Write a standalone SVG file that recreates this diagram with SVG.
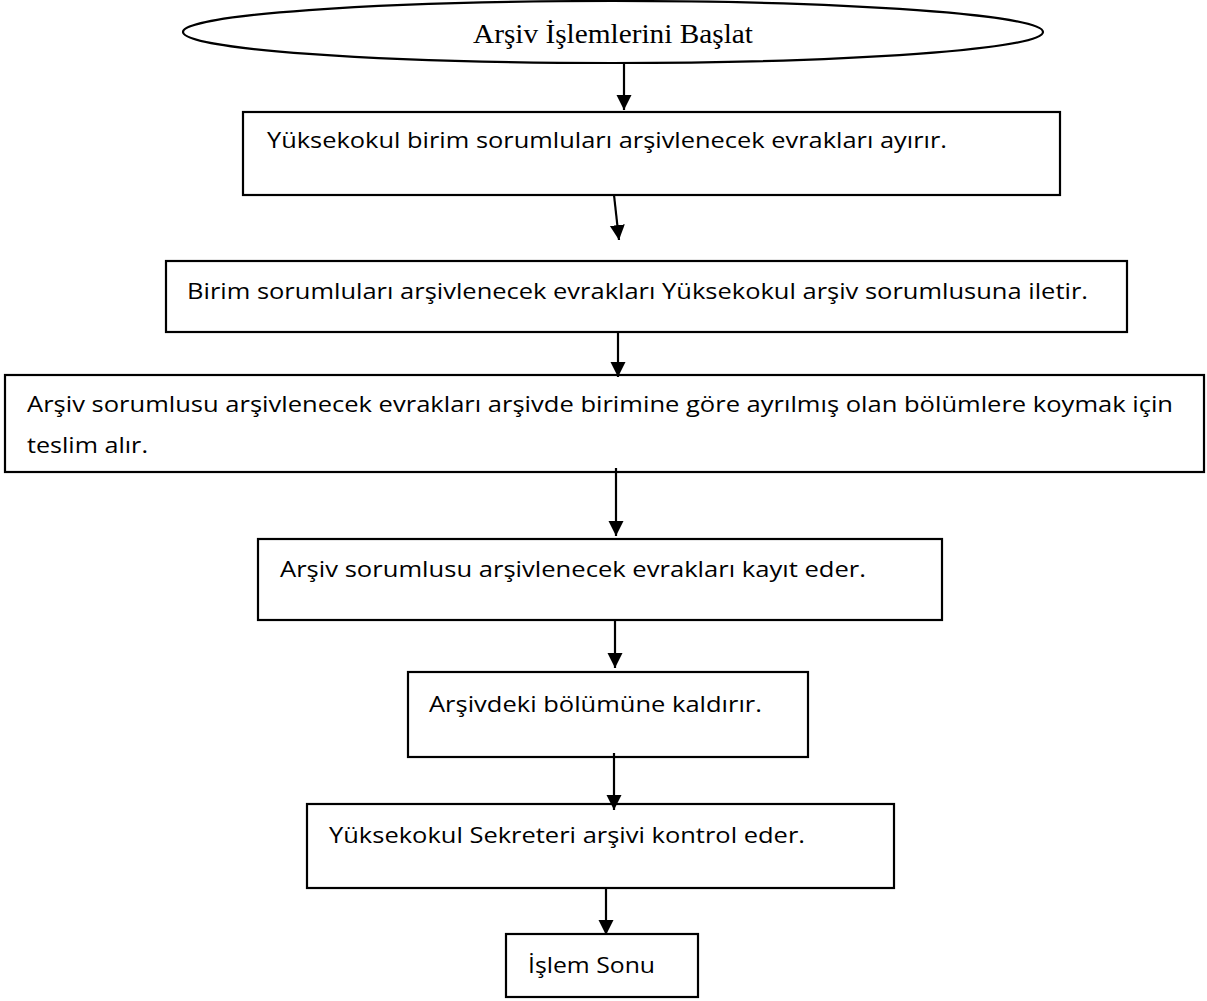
<svg xmlns="http://www.w3.org/2000/svg" width="1207" height="1001" viewBox="0 0 1207 1001">
  <style>
    .box { fill: #ffffff; stroke: #000000; stroke-width: 2.2; }
    .lbl { font-family: "Open Sans", "Noto Sans", "Liberation Sans", sans-serif; font-size: 22px; fill: #000000; }
    .start { font-family: "Liberation Serif", "Times New Roman", serif; font-size: 28px; fill: #000000; }
    .edge { stroke: #000000; stroke-width: 2.2; fill: none; marker-end: url(#head); }
  </style>
  <defs>
    <marker id="head" markerUnits="userSpaceOnUse" markerWidth="16" markerHeight="16" refX="15" refY="8" orient="auto">
      <path d="M0,0.5 L15,8 L0,15.5 Z" fill="#000000"/>
    </marker>
  </defs>
  <rect width="1207" height="1001" fill="#ffffff"/>

  <g id="start">
    <ellipse cx="613" cy="32" rx="430" ry="31" fill="#ffffff" stroke="#000000" stroke-width="2.2"/>
    <text class="start" x="473" y="43" textLength="280" lengthAdjust="spacingAndGlyphs">Arşiv İşlemlerini Başlat</text>
  </g>

  <g id="step1">
    <rect class="box" x="243" y="112" width="817" height="83"/>
    <text class="lbl" x="267" y="148" textLength="680" lengthAdjust="spacingAndGlyphs">Yüksekokul birim sorumluları arşivlenecek evrakları ayırır.</text>
  </g>

  <g id="step2">
    <rect class="box" x="166" y="261" width="961" height="71"/>
    <text class="lbl" x="187" y="299" textLength="901" lengthAdjust="spacingAndGlyphs">Birim sorumluları arşivlenecek evrakları Yüksekokul arşiv sorumlusuna iletir.</text>
  </g>

  <g id="step3">
    <rect class="box" x="5" y="375" width="1199" height="97"/>
    <text class="lbl" x="27" y="412" textLength="1146" lengthAdjust="spacingAndGlyphs">Arşiv sorumlusu arşivlenecek evrakları arşivde birimine göre ayrılmış olan bölümlere koymak için</text>
    <text class="lbl" x="27" y="453" textLength="121" lengthAdjust="spacingAndGlyphs">teslim alır.</text>
  </g>

  <g id="step4">
    <rect class="box" x="258" y="539" width="684" height="81"/>
    <text class="lbl" x="280" y="577" textLength="586" lengthAdjust="spacingAndGlyphs">Arşiv sorumlusu arşivlenecek evrakları kayıt eder.</text>
  </g>

  <g id="step5">
    <rect class="box" x="408" y="672" width="400" height="85"/>
    <text class="lbl" x="429" y="712" textLength="333" lengthAdjust="spacingAndGlyphs">Arşivdeki bölümüne kaldırır.</text>
  </g>

  <g id="step6">
    <rect class="box" x="307" y="804" width="587" height="84"/>
    <text class="lbl" x="329" y="843" textLength="476" lengthAdjust="spacingAndGlyphs">Yüksekokul Sekreteri arşivi kontrol eder.</text>
  </g>

  <g id="end">
    <rect class="box" x="506" y="934" width="192" height="63"/>
    <text class="lbl" x="528" y="973" textLength="127" lengthAdjust="spacingAndGlyphs">İşlem Sonu</text>
  </g>

  <g id="connectors">
    <line class="edge" x1="624" y1="64" x2="624" y2="110"/>
    <line class="edge" x1="614" y1="195" x2="619" y2="240"/>
    <line class="edge" x1="618" y1="332" x2="618" y2="377"/>
    <line class="edge" x1="616" y1="468" x2="616" y2="536"/>
    <line class="edge" x1="615" y1="620" x2="615" y2="668"/>
    <line class="edge" x1="614" y1="753" x2="614" y2="810"/>
    <line class="edge" x1="606" y1="888" x2="606" y2="935"/>
  </g>
</svg>
